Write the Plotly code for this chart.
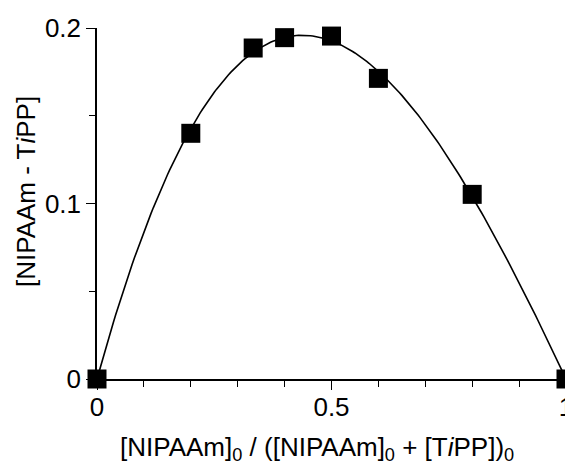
import numpy as np
import plotly.graph_objects as go

# Data
mole_fraction = [0.0, 0.2, 0.333, 0.4, 0.5, 0.6, 0.8, 1.0]
complex_conc = [0.0, 0.140, 0.1886, 0.1945, 0.1954, 0.1713, 0.1052, 0.0]

x_ticks = [0, 0.5, 1]
x_tick_labels = ["0", "0.5", "1"]
y_ticks = [0, 0.1, 0.2]
y_tick_labels = ["0", "0.1", "0.2"]

x_title = "[NIPAAm]<sub>0</sub> / ([NIPAAm]<sub>0</sub> + [T<i>i</i>PP])<sub>0</sub>"
y_title = "[NIPAAm - T<i>i</i>PP]"

# Smooth fit y = x(1-x)(c0 + c1 x), least squares on the data
xa = np.array(mole_fraction)
ya = np.array(complex_conc)
base = xa * (1 - xa)
A = np.vstack([base, base * xa]).T
coef, *_ = np.linalg.lstsq(A, ya, rcond=None)
xf = np.linspace(0, 1, 201)
yf = xf * (1 - xf) * (coef[0] + coef[1] * xf)

fig = go.Figure()
fig.add_trace(go.Scatter(x=xf, y=yf, mode="lines",
                         line=dict(color="black", width=1.6),
                         hoverinfo="skip", cliponaxis=False))
fig.add_trace(go.Scatter(x=mole_fraction, y=complex_conc, mode="markers",
                         marker=dict(symbol="square", size=19, color="black",
                                     line=dict(width=0)),
                         cliponaxis=False))

FAM = "Liberation Sans, Arial, Helvetica, sans-serif"
font = dict(family=FAM, size=26, color="black")

# page body has an 8px margin, so margins are shifted by 8px
fig.update_layout(
    width=573, height=460,
    margin=dict(l=89, r=15, t=20, b=89, autoexpand=False),
    paper_bgcolor="white", plot_bgcolor="white",
    showlegend=False,
    font=font,
    xaxis=dict(range=[0, 1], tickvals=x_ticks, ticktext=x_tick_labels,
               showgrid=False, zeroline=False, showline=True,
               linecolor="black", linewidth=1.5, automargin=False,
               ticks="outside", ticklen=9, tickwidth=1, tickcolor="black",
               ticklabeloverflow="allow", ticklabelstandoff=-5,
               minor=dict(dtick=0.1, ticks="outside", ticklen=6,
                          tickwidth=1, tickcolor="black", showgrid=False),
               tickfont=dict(size=26)),
    yaxis=dict(range=[0, 0.2], tickvals=y_ticks, ticktext=y_tick_labels,
               showgrid=False, zeroline=False, showline=True,
               linecolor="black", linewidth=1.5, automargin=False,
               ticks="outside", ticklen=9, tickwidth=1, tickcolor="black",
               ticklabeloverflow="allow",
               minor=dict(dtick=0.05, ticks="outside", ticklen=6,
                          tickwidth=1, tickcolor="black", showgrid=False),
               tickfont=dict(size=26)),
    annotations=[
        dict(text=x_title, xref="paper", yref="paper",
             x=(316.5 - 97) / 469, y=(379 - 448) / 351,
             xanchor="center", yanchor="middle", showarrow=False,
             font=dict(family=FAM, size=26, color="black")),
        dict(text=y_title, xref="paper", yref="paper", textangle=-90,
             x=(26 - 97) / 469, y=(379 - 192) / 351,
             xanchor="center", yanchor="middle", showarrow=False,
             font=dict(family=FAM, size=26, color="black")),
    ],
)

fig.write_html("out.html")
